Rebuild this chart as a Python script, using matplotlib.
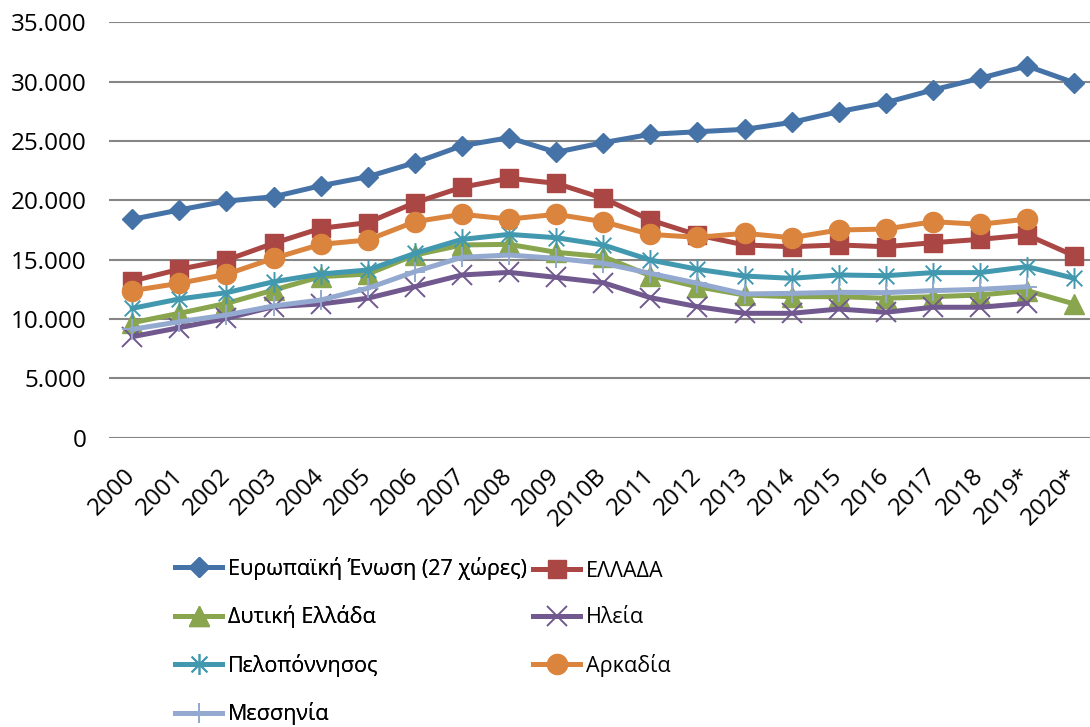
import numpy as np
import matplotlib
matplotlib.use("Agg")
import matplotlib.pyplot as plt
from matplotlib.path import Path

plt.rcParams['font.family'] = ['Open Sans', 'DejaVu Sans']

years = ['2000', '2001', '2002', '2003', '2004', '2005', '2006', '2007', '2008', '2009',
         '2010B', '2011', '2012', '2013', '2014', '2015', '2016', '2017', '2018', '2019*', '2020*']

eu = [18400, 19190, 19940, 20300, 21230, 21990, 23170, 24600, 25280, 24050,
      24860, 25560, 25780, 25980, 26570, 27470, 28230, 29300, 30280, 31320, 29910]
ellada = [13200, 14190, 14970, 16380, 17640, 18120, 19800, 21100, 21860, 21430,
          20170, 18340, 17080, 16240, 16090, 16240, 16090, 16430, 16710, 17080, 15330]
dytiki = [9690, 10480, 11320, 12440, 13570, 13790, 15390, 16240, 16290, 15620,
          15250, 13650, 12720, 12020, 11880, 11880, 11750, 11880, 12020, 12390, 11270]
ileia = [8510, 9270, 10060, 11040, 11270, 11750, 12720, 13710, 13930, 13510,
         13060, 11800, 11040, 10480, 10480, 10840, 10570, 10990, 10990, 11320, None]
peloponnisos = [10900, 11690, 12220, 13140, 13790, 14130, 15530, 16710, 17130, 16850,
                16240, 14970, 14190, 13620, 13430, 13710, 13650, 13910, 13910, 14410, 13430]
arkadia = [12390, 13010, 13770, 15110, 16290, 16660, 18200, 18820, 18420, 18820,
           18200, 17130, 16880, 17220, 16850, 17500, 17580, 18200, 17980, 18420, None]
messinia = [9130, 9770, 10340, 11100, 11600, 12590, 13990, 15200, 15390, 15110,
            14690, 13850, 13010, 12110, 12160, 12250, 12220, 12390, 12500, 12720, None]

labels = ['Ευρωπαϊκή Ένωση (27 χώρες)', 'ΕΛΛΑΔΑ', 'Δυτική Ελλάδα', 'Ηλεία',
          'Πελοπόννησος', 'Αρκαδία', 'Μεσσηνία']
colors = ['#4572A7', '#AA4643', '#89A54E', '#71588F', '#4198AF', '#DB843D', '#93A9CF']

star = Path([(0, -1), (0, 1), (-0.75, -0.75), (0.75, 0.75), (-0.75, 0.75), (0.75, -0.75)],
            [Path.MOVETO, Path.LINETO, Path.MOVETO, Path.LINETO, Path.MOVETO, Path.LINETO])

fig = plt.figure(figsize=(10.9, 7.27), dpi=100)
ax = fig.add_axes([108.75 / 1090, 1 - 437.7 / 727, 989 / 1090, 415.4 / 727])

x = np.arange(len(years))


def vals(v):
    return np.array([np.nan if a is None else a for a in v], dtype=float)


lines = {}
lw = 3.6
lines[0], = ax.plot(x, vals(eu), color=colors[0], lw=lw, marker='D', ms=10.5, mec=colors[0])
lines[1], = ax.plot(x, vals(ellada), color=colors[1], lw=lw, marker='s', ms=13.5, mec=colors[1])
lines[2], = ax.plot(x, vals(dytiki), color=colors[2], lw=lw, marker='^', ms=15, mec=colors[2])
lines[3], = ax.plot(x, vals(ileia), color=colors[3], lw=lw, marker='x', ms=14, mew=1.4, mec=colors[3])
lines[4], = ax.plot(x, vals(peloponnisos), color=colors[4], lw=lw, marker=star, ms=15, mew=1.4,
                    mec=colors[4], mfc='none')
lines[5], = ax.plot(x, vals(arkadia), color=colors[5], lw=lw, marker='o', ms=14.5, mec=colors[5])
lines[6], = ax.plot(x, vals(messinia), color=colors[6], lw=lw, marker='+', ms=15, mew=1.4, mec=colors[6])

ax.set_xlim(-0.5, len(years) - 0.5)
ax.set_ylim(0, 35000)
ax.set_yticks(np.arange(0, 35001, 5000))
ax.set_yticklabels([f"{int(v):,}".replace(',', '.') for v in np.arange(0, 35001, 5000)], fontsize=17.5)
ax.set_xticks(x)
ax.set_xticklabels(years, fontsize=17.5, rotation=45, ha='right', va='center', rotation_mode='anchor')
ax.tick_params(axis='y', length=0, pad=16)
ax.tick_params(axis='x', length=0, pad=25)
ax.grid(axis='y', color='#868686', lw=1.5)
ax.set_axisbelow(True)
for s in ax.spines.values():
    s.set_visible(False)

# two legends so each column sits where the original puts it
leg_kw = dict(frameon=False, loc='upper left', borderpad=0, borderaxespad=0, fontsize=15.5,
              handlelength=2.2, handletextpad=0.25, labelspacing=1.18, numpoints=1)
col1 = [0, 2, 4, 6]
col2 = [1, 3, 5]
leg1 = fig.legend([lines[i] for i in col1], [labels[i] for i in col1],
                  bbox_to_anchor=(175 / 1090, 1 - 557 / 727), **leg_kw)
fig.add_artist(leg1)
fig.legend([lines[i] for i in col2], [labels[i] for i in col2],
           bbox_to_anchor=(533 / 1090, 1 - 561 / 727), **leg_kw)

fig.savefig('out.png', dpi=100)
